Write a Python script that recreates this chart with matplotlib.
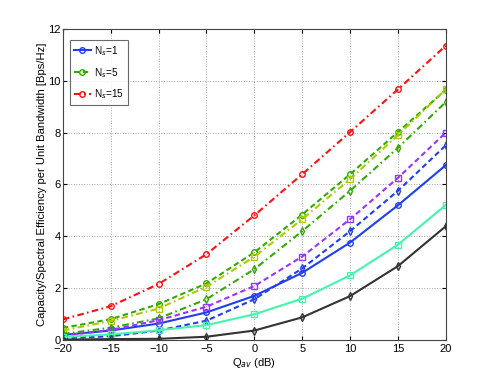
import matplotlib
matplotlib.use("Agg")
import matplotlib.pyplot as plt

x = [-20, -15, -10, -5, 0, 5, 10, 15, 20]

red_circle = [0.78, 1.29, 2.15, 3.3, 4.8, 6.39, 8.02, 9.67, 11.36]
green_circle = [0.45, 0.79, 1.37, 2.17, 3.37, 4.83, 6.39, 8.02, 9.65]
yellow_square = [0.35, 0.72, 1.2, 2.04, 3.2, 4.65, 6.2, 7.9, 9.67]
green_diamond = [0.22, 0.46, 0.82, 1.56, 2.72, 4.19, 5.75, 7.41, 9.18]
purple_square = [0.15, 0.37, 0.75, 1.27, 2.07, 3.21, 4.65, 6.25, 8.0]
blue_diamond = [0.05, 0.13, 0.35, 0.73, 1.56, 2.75, 4.19, 5.75, 7.51]
blue_circle = [0.18, 0.35, 0.62, 1.05, 1.69, 2.58, 3.75, 5.19, 6.74]
aqua_square = [0.1, 0.2, 0.36, 0.56, 0.98, 1.58, 2.48, 3.67, 5.2]
dark_diamond = [0.0, 0.02, 0.03, 0.11, 0.35, 0.86, 1.68, 2.84, 4.38]

xticks = [-20, -15, -10, -5, 0, 5, 10, 15, 20]
yticks = [0, 2, 4, 6, 8, 10, 12]

plt.rcParams['font.family'] = ['Liberation Sans', 'DejaVu Sans']

fig = plt.figure(figsize=(4.91, 3.82), dpi=100)
ax = fig.add_axes([0.128, 0.111, 0.78, 0.813])

DASH = (2.6, 1.6)
DASHDOT = (3.2, 1.6, 0.8, 1.6)

def line(y, ls, color, marker, label=None):
    kw = dict(lw=1.5, ms=4, mfc='none', mew=1.0, color=color, marker=marker)
    if label:
        kw['label'] = label
    if ls == '--':
        ax.plot(x, y, linestyle=(0, DASH), **kw)
    elif ls == '-.':
        ax.plot(x, y, linestyle=(0, DASHDOT), **kw)
    else:
        ax.plot(x, y, linestyle='-', **kw)

line(blue_circle, '-', '#1f3ff0', 'o', 'N$_s$=1')
line(green_circle, '--', '#33aa00', 'o', 'N$_s$=5')
line(red_circle, '-.', '#ff1010', 'o', 'N$_s$=15')
line(yellow_square, '-.', '#aacc00', 's')
line(green_diamond, '-.', '#33aa00', 'd')
line(purple_square, '--', '#9933ff', 's')
line(blue_diamond, '--', '#1f3ff0', 'd')
line(aqua_square, '-', '#44f5aa', 's')
line(dark_diamond, '-', '#333333', 'd')

ax.set_xlim(-20, 20)
ax.set_ylim(0, 12)
ax.set_xticks(xticks)
ax.set_yticks(yticks)
ax.tick_params(direction='in', labelsize=8, length=3, top=True, right=True)
ax.tick_params(axis='x', pad=3.5)
ax.tick_params(axis='y', pad=1.5)
ax.grid(True, linestyle=':', color='#aaaaaa', lw=0.7)
for s in ax.spines.values():
    s.set_color('#444444')
    s.set_linewidth(0.8)

ax.set_xlabel('Q$_{av}$ (dB)', fontsize=8, labelpad=1)
ax.set_ylabel('Capacity/Spectral Efficiency per Unit Bandwidth [Bps/Hz]', fontsize=8.1)
ax.yaxis.set_label_coords(-0.042, 0.5)

leg = ax.legend(loc='upper left', bbox_to_anchor=(0.018, 0.965), fontsize=7.2, fancybox=False,
                edgecolor='#444444', handlelength=1.7, handletextpad=0.3, borderpad=0.4,
                labelspacing=0.8, borderaxespad=0.0)
leg.get_frame().set_linewidth(0.8)

fig.savefig('out.png', dpi=100)
